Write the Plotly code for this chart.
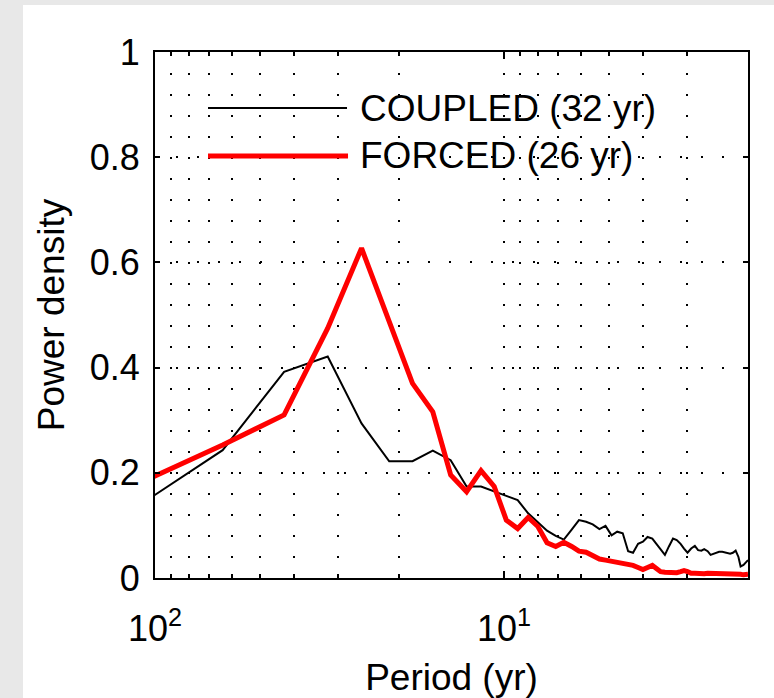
import plotly.graph_objects as go

# Period (yr) of each spectral estimate
period = [128, 64, 42.67, 32, 25.6, 21.33, 18.29, 16, 14.22, 12.8, 11.64, 10.67, 9.85, 9.14,
          8.53, 8, 7.53, 7.11, 6.74, 6.4, 6.10, 5.82, 5.57, 5.33, 5.12, 4.92, 4.74, 4.57, 4.41,
          4.27, 4.13, 4, 3.88, 3.76, 3.66, 3.56, 3.46, 3.37, 3.28, 3.2, 3.12, 3.05, 2.98, 2.91,
          2.84, 2.78, 2.72, 2.67, 2.61, 2.56, 2.51, 2.46, 2.42, 2.37, 2.33, 2.29, 2.25, 2.21,
          2.17, 2.13, 2.10, 2.06, 2.03, 2.0]

coupled = [0.111, 0.243, 0.392, 0.421, 0.294, 0.222, 0.222, 0.242, 0.224, 0.174, 0.174, 0.165,
           0.156, 0.148, 0.123, 0.106, 0.090, 0.080, 0.073, 0.092, 0.110, 0.107, 0.102, 0.093,
           0.099, 0.081, 0.088, 0.085, 0.051, 0.048, 0.065, 0.069, 0.078, 0.075, 0.065, 0.053,
           0.044, 0.060, 0.075, 0.072, 0.065, 0.056, 0.048, 0.056, 0.061, 0.053, 0.052, 0.055,
           0.051, 0.044, 0.046, 0.048, 0.050, 0.050, 0.049, 0.047, 0.046, 0.048, 0.052, 0.040,
           0.022, 0.025, 0.030, 0.034]

forced = [0.161, 0.253, 0.310, 0.475, 0.627, 0.490, 0.370, 0.316, 0.196, 0.164, 0.204, 0.174,
          0.110, 0.094, 0.115, 0.098, 0.067, 0.060, 0.068, 0.060, 0.051, 0.049, 0.042, 0.036,
          0.034, 0.032, 0.029, 0.026, 0.025, 0.024, 0.020, 0.016, 0.020, 0.024, 0.018, 0.012,
          0.011, 0.010, 0.009, 0.010, 0.012, 0.014, 0.012, 0.009, 0.009, 0.008, 0.008, 0.008,
          0.009, 0.009, 0.008, 0.008, 0.009, 0.009, 0.008, 0.008, 0.007, 0.007, 0.007, 0.007,
          0.007, 0.006, 0.007, 0.007]

series_names = ["COUPLED (32 yr)", "FORCED (26 yr)"]
major_ticks = [100, 10]
major_text = ["10<sup>2</sup>", "10<sup>1</sup>"]
minor_ticks = [90, 80, 70, 60, 50, 40, 30, 20, 9, 8, 7, 6, 5, 4, 3, 2]
y_ticks = [0, 0.2, 0.4, 0.6, 0.8, 1]
y_text = ["0", "0.2", "0.4", "0.6", "0.8", "1"]

FONT = "Liberation Sans, Arial, Helvetica, sans-serif"
FS = 36
FS_BIG = 37
GRID_DASH = "2px,19px"

fig = go.Figure()
fig.add_trace(go.Scatter(x=period, y=coupled, mode="lines", name=series_names[0],
                         line=dict(color="black", width=2), showlegend=False))
fig.add_trace(go.Scatter(x=period, y=forced, mode="lines", name=series_names[1],
                         line=dict(color="#ff0000", width=5), showlegend=False))

# white panel on grey page
fig.add_shape(type="rect", xref="paper", yref="paper", x0=-0.2226, x1=1.05, y0=-0.25, y1=1.0894,
              fillcolor="white", line=dict(width=0), layer="below")

# manual legend
fig.add_shape(type="line", xref="paper", yref="paper", x0=0.0894, x1=0.3238, y0=0.8935, y1=0.8935,
              line=dict(color="black", width=2))
fig.add_shape(type="line", xref="paper", yref="paper", x0=0.0894, x1=0.3255, y0=0.8023, y1=0.8023,
              line=dict(color="#ff0000", width=5))
for name, yy in zip(series_names, [0.8935, 0.8023]):
    fig.add_annotation(text=name, xref="paper", yref="paper", x=0.343, y=yy, xanchor="left",
                       yanchor="middle", showarrow=False,
                       font=dict(family=FONT, size=FS_BIG, color="black"))

fig.update_layout(
    width=774, height=698,
    margin=dict(l=155, r=26, t=52, b=120, pad=0),
    paper_bgcolor="#e8e8e8",
    plot_bgcolor="white",
    font=dict(family=FONT, size=FS, color="black"),
    showlegend=False,
)
fig.update_xaxes(
    type="log", range=[2, 0.30103], automargin=False,
    tickvals=major_ticks, ticktext=major_text,
    ticks="inside", ticklen=7, tickwidth=1.5, tickcolor="black",
    showline=True, linecolor="black", linewidth=2, mirror="allticks",
    showgrid=True, gridcolor="black", gridwidth=2, griddash=GRID_DASH,
    minor=dict(tickvals=minor_ticks, ticks="inside", ticklen=4, tickwidth=1.5, tickcolor="black",
               showgrid=True, gridcolor="black", gridwidth=2, griddash=GRID_DASH),
    zeroline=False,
    title=dict(text="Period (yr)", font=dict(family=FONT, size=FS_BIG), standoff=16),
    ticklabelstandoff=18,
)
fig.update_yaxes(
    range=[0, 1], automargin=False,
    tickvals=y_ticks, ticktext=y_text,
    ticks="inside", ticklen=5, tickwidth=1.5, tickcolor="black",
    showline=True, linecolor="black", linewidth=2, mirror="allticks",
    showgrid=True, gridcolor="black", gridwidth=2, griddash=GRID_DASH,
    zeroline=False,
    title=dict(text="Power density", font=dict(family=FONT, size=FS_BIG), standoff=14),
    ticklabelstandoff=6,
)

fig.write_html("out.html")
